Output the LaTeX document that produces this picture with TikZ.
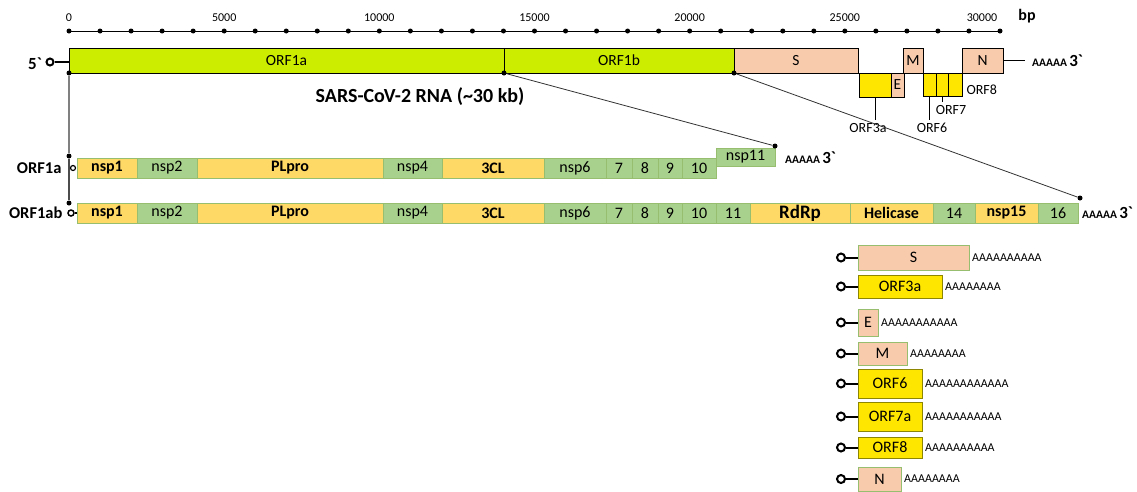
\documentclass[tikz,border=0pt]{standalone}
\usepackage{fontspec}
\setmainfont{Carlito}
\definecolor{genomegreen}{RGB}{204,236,0}
\definecolor{salmonS}{RGB}{248,203,173}
\definecolor{orfyellow}{RGB}{255,230,0}
\definecolor{nsporange}{RGB}{255,217,102}
\definecolor{nspgreen}{RGB}{169,209,142}
\definecolor{segline}{RGB}{150,190,110}
\newcommand{\fs}[1]{\fontsize{#1}{#1}\selectfont}
\begin{document}
\begin{tikzpicture}[x=1pt,y=-1pt,
  seg/.style={draw=segline, line width=0.5pt, inner sep=0pt, outer sep=0pt, minimum height=20pt},
  nspO/.style={seg, fill=nsporange, font=\fs{16}\bfseries},
  nspR/.style={seg, fill=nsporange, font=\fs{19}\bfseries},
  nspG/.style={seg, fill=nspgreen, font=\fs{16}},
  gene/.style={draw, line width=0.6pt, inner sep=0pt, outer sep=0pt, anchor=north west, font=\fs{15.5}},
  salbox/.style={draw=segline, line width=0.6pt, fill=salmonS, inner sep=0pt, outer sep=0pt, anchor=west, font=\fs{16}},
  yelbox/.style={draw=olive, line width=0.6pt, fill=orfyellow, inner sep=0pt, outer sep=0pt, anchor=west, font=\fs{16}},
  capring/.style={draw, line width=2pt, circle, inner sep=0pt, minimum size=7pt},
  tickdot/.style={circle, fill, inner sep=0pt, minimum size=5pt},
  polyA/.style={font=\fs{12}, inner sep=0pt, anchor=west},
  tail/.style={inner sep=0pt, anchor=west},
]
\useasboundingbox (0,0) rectangle (1137,491);

% genome axis in bp
\draw[line width=0.8pt] (69,31) -- (1000,31);
\foreach \i in {0,...,30}
  \node[tickdot] (t\i) at ({69+31.033*\i},31) {};
\foreach \i/\l in {0/0,5/5000,10/10000,15/15000,20/20000,25/25000}
  \node[font=\fs{12}] (tl\i) at ({69+31.033*\i},18) {\l};
\node[font=\fs{12}] (tl30) at (982,18) {30000};
\node[font=\fs{16}\bfseries] (bp) at (1027,16) {bp};

% genomic RNA
\node[gene, fill=genomegreen, minimum width=435pt, minimum height=25pt] (orf1a) at (69,48) {ORF1a};
\node[gene, fill=genomegreen, minimum width=230pt, minimum height=25pt] (orf1b) at (504,48) {ORF1b};
\node[gene, fill=salmonS, minimum width=124pt, minimum height=25pt] (s) at (734,48) {S};
\node[gene, fill=orfyellow, minimum width=32pt, minimum height=24pt] (orf3a) at (859,73) {};
\node[gene, fill=salmonS, minimum width=13pt, minimum height=24pt] (e) at (891,73) {E};
\node[gene, fill=salmonS, minimum width=20pt, minimum height=25pt] (m) at (903,48) {M};
\node[gene, fill=orfyellow, minimum width=13pt, minimum height=23pt] (orf6) at (923,73) {};
\node[gene, fill=orfyellow, minimum width=12pt, minimum height=23pt] (orf7) at (936,73) {};
\node[gene, fill=orfyellow, minimum width=14pt, minimum height=23pt] (orf8) at (948,73) {};
\node[gene, fill=salmonS, minimum width=41pt, minimum height=25pt] (n) at (962,48) {N};
\coordinate (nend) at (1025,60.5);
\draw (n.east) -- (nend);
\node[tail] (tailg) at (1032,61) {{\fs{11.5}\bfseries AAAAA} {\fs{17}\bfseries 3\textasciigrave}};

% small ORF labels
\node[font=\fs{14}] (l3a) at (868,128) {ORF3a};
\node[font=\fs{14}] (l6) at (932,128) {ORF6};
\node[font=\fs{14}] (l7) at (951,110) {ORF7};
\node[font=\fs{14}, anchor=west] (l8) at (963,90) {ORF8};
\draw (orf3a.south) -- (orf3a.south |- l3a.north);
\draw (orf6.south) -- (orf6.south |- l6.north);
\draw (orf7.south) -- (orf7.south |- l7.north);

\node[font=\fs{20}\bfseries] (title) at (420,97) {SARS-CoV-2 RNA (\textasciitilde30 kb)};

% 5' cap and link down to the polyproteins
\node[font=\fs{17}\bfseries] (five) at (35,64) {5\textasciigrave};
\node[capring] (cap5) at (50,62) {};
\draw[line width=2pt] (cap5) -- (cap5 -| orf1a.west);
\node[tickdot, minimum size=5pt] (d0) at (69,73) {};
\node[tickdot, minimum size=5pt] (d1) at (69,156) {};
\node[tickdot, minimum size=5pt] (d2) at (69,203) {};
\draw[gray, line width=2.2pt] (d0) -- (d1);
\draw[gray!60!black, line width=1.2pt] (d1) -- (d2);

% ORF1a polyprotein
\node[font=\fs{16.5}\bfseries, anchor=east] (la) at (65,168) {ORF1a};
\node[draw, circle, line width=1.2pt, inner sep=0pt, minimum size=5pt] (capa) at (73,168) {};
\foreach \a/\b/\t/\s in {77/137/nsp1/nspO, 137/197/nsp2/nspG, 197/383/PLpro/nspO,
    383/442/nsp4/nspG, 442/544/3CL/nspO, 544/606/nsp6/nspG, 606/632/7/nspG,
    632/658/8/nspG, 658/682/9/nspG, 682/716/10/nspG}
  \node[\s, minimum width={(\b-\a)*1pt}, anchor=west] (a\t) at (\a,168) {\t};
\node[nspG, minimum width=59pt, minimum height=18pt, anchor=west] (ansp11) at (716,157) {nsp11};
\node[tail] (taila) at (785,158) {{\fs{11.5}\bfseries AAAAA} {\fs{17}\bfseries 3\textasciigrave}};

% ORF1ab polyprotein
\node[font=\fs{16.5}\bfseries, anchor=east] (lab) at (66,213) {ORF1ab};
\node[capring, minimum size=6pt, line width=1.5pt] (capab) at (71,213) {};
\foreach \a/\b/\t/\s in {77/137/nsp1/nspO, 137/197/nsp2/nspG, 197/383/PLpro/nspO,
    383/442/nsp4/nspG, 442/544/3CL/nspO, 544/606/nsp6/nspG, 606/632/7/nspG,
    632/658/8/nspG, 658/682/9/nspG, 682/716/10/nspG, 716/750/11/nspG,
    750/850/RdRp/nspR, 850/933/Helicase/nspO, 933/975/14/nspG, 975/1038/nsp15/nspO,
    1038/1078/16/nspG}
  \node[\s, minimum width={(\b-\a)*1pt}, anchor=west] (ab\t) at (\a,213) {\t};
\draw[line width=1.5pt] (capab) -- (abnsp1);
\node[tail] (tailab) at (1082,213) {{\fs{11.5}\bfseries AAAAA} {\fs{17}\bfseries 3\textasciigrave}};

% zoom lines from the genome to the polyprotein ends
\node[tickdot] (b1) at (504,73) {};
\node[tickdot] (e1) at (775,146) {};
\node[tickdot] (b2) at (734,73) {};
\node[tickdot] (e2) at (1080,198) {};
\draw[gray!40!black, line width=0.8pt] (b1) -- (e1);
\draw[gray!40!black, line width=0.8pt] (b2) -- (e2);

% subgenomic mRNAs
\foreach \n/\y/\w/\h/\s/\p in {S/257.5/111/25/salbox/AAAAAAAAAA,
    ORF3a/286.5/84/23/yelbox/AAAAAAAA,
    E/322.5/20/27/salbox/AAAAAAAAAAA,
    M/353.5/49/23/salbox/AAAAAAAA,
    ORF6/383.5/64/29/yelbox/AAAAAAAAAAAA,
    ORF7a/416.5/64/29/yelbox/AAAAAAAAAAA,
    ORF8/447.5/64/21/yelbox/AAAAAAAAAA,
    N/479/43/24/salbox/AAAAAAAA}
  {
  \node[\s, minimum width={\w*1pt}, minimum height={\h*1pt}] (sg\n) at (858,\y) {\n};
  \node[capring, minimum size=8pt] (c\n) at (841,\y) {};
  \draw[line width=2pt] (c\n) -- (sg\n);
  \node[polyA] (pa\n) at ([xshift=3pt]sg\n.east) {\p};
  }
\end{tikzpicture}
\end{document}
